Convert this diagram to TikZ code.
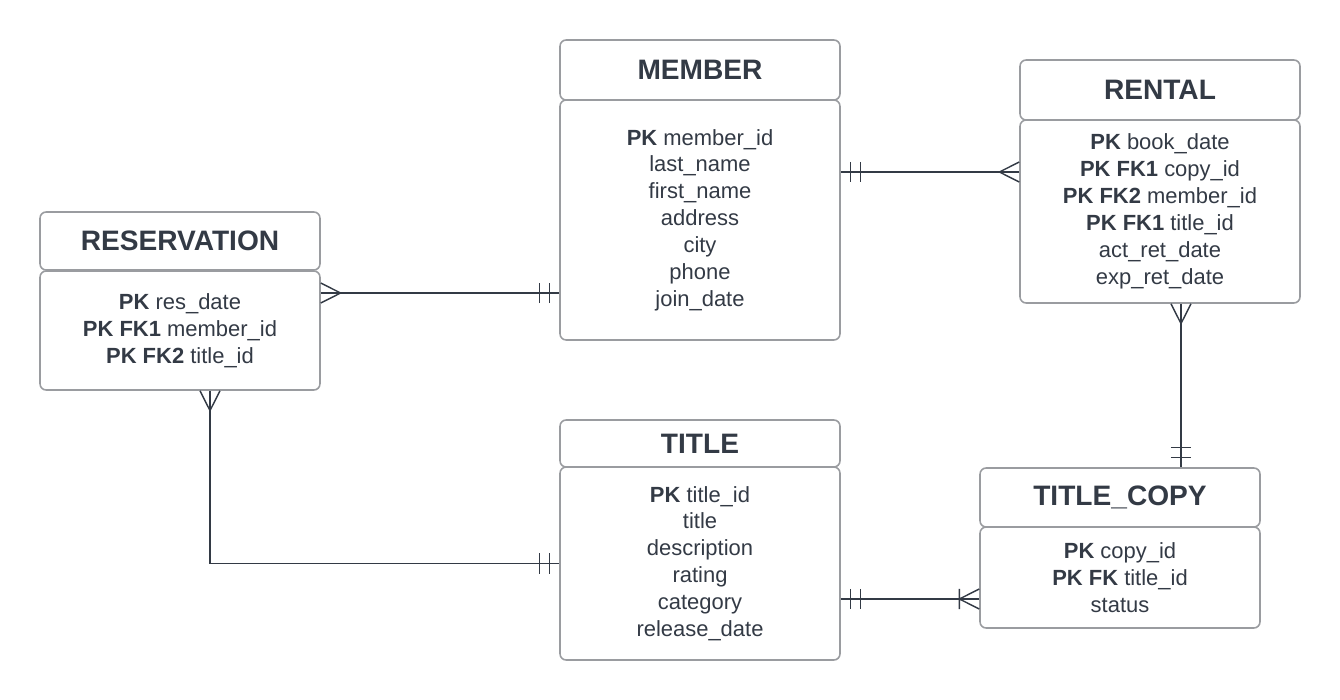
\documentclass[tikz,border=0pt]{standalone}
\usepackage{fontspec}
\setmainfont{Liberation Sans}
\usepackage{xcolor}
\usepackage{tikz}
\usetikzlibrary{decorations.markings}
\definecolor{inkgray}{HTML}{333A45}
\definecolor{boxgray}{HTML}{9A9CA0}
\tikzset{
  tblhead/.style={
    draw=boxgray, line width=0.9pt, rounded corners=3.5pt,
    minimum width=5.6cm, text=inkgray,
    font=\fontsize{16}{19}\selectfont\bfseries,
  },
  tblbody/.style={
    draw=boxgray, line width=0.9pt, rounded corners=3.5pt,
    minimum width=5.6cm, text=inkgray, align=center,
    font=\fontsize{12.5}{15.3}\selectfont,
  },
  link/.style={draw=inkgray, line width=0.8pt},
  many to one/.style={
    decoration={
      markings,
      mark=at position 0 with {\draw[inkgray, line width=0.8pt] (0,5.7pt) -- (11.3pt,0) -- (0,-5.7pt);},
      mark=at position 1 with {\draw[inkgray, line width=0.8pt] (-5.7pt,-5.7pt) -- (-5.7pt,5.7pt) (-11.3pt,-5.7pt) -- (-11.3pt,5.7pt);},
    },
    postaction={decorate},
  },
  some to one/.style={
    decoration={
      markings,
      mark=at position 0 with {\draw[inkgray, line width=0.8pt] (0,5.7pt) -- (11.3pt,0) -- (0,-5.7pt) (11.3pt,-5.7pt) -- (11.3pt,5.7pt);},
      mark=at position 1 with {\draw[inkgray, line width=0.8pt] (-5.7pt,-5.7pt) -- (-5.7pt,5.7pt) (-11.3pt,-5.7pt) -- (-11.3pt,5.7pt);},
    },
    postaction={decorate},
  },
}
\newcommand{\pk}[1]{\textbf{#1}}

\begin{document}
\begin{tikzpicture}[x=0.02cm, y=-0.02cm]
  \useasboundingbox (0,0) rectangle (1340,700);

  % Define nodes
  \node[tblhead, minimum height=1.2cm] (member) at (700,70) {MEMBER};
  \node[tblbody, minimum height=4.8cm] (memberbody) at (700,220)
    {\pk{PK} member\_id\\last\_name\\first\_name\\address\\city\\phone\\join\_date};

  \node[tblhead, minimum height=1.2cm] (rental) at (1160,90) {RENTAL};
  \node[tblbody, minimum height=3.66cm] (rentalbody) at (1160,211.5)
    {\pk{PK} book\_date\\\pk{PK FK1} copy\_id\\\pk{PK FK2} member\_id\\\pk{PK FK1} title\_id\\act\_ret\_date\\exp\_ret\_date};

  \node[tblhead, minimum height=1.16cm] (reservation) at (180,241) {RESERVATION};
  \node[tblbody, minimum height=2.38cm] (reservationbody) at (180,330.5)
    {\pk{PK} res\_date\\\pk{PK FK1} member\_id\\\pk{PK FK2} title\_id};

  \node[tblhead, minimum height=0.94cm] (title) at (700,443.5) {TITLE};
  \node[tblbody, minimum height=3.86cm] (titlebody) at (700,563.5)
    {\pk{PK} title\_id\\title\\description\\rating\\category\\release\_date};

  \node[tblhead, minimum height=1.18cm] (titlecopy) at (1120,497.5) {TITLE\_COPY};
  \node[tblbody, minimum height=2.02cm] (titlecopybody) at (1120,577.5)
    {\pk{PK} copy\_id\\\pk{PK FK} title\_id\\status};

  % Connect nodes
  \coordinate (a) at ([yshift=0.75cm]reservationbody.east);
  \draw[link, many to one] (a) -- (memberbody.west |- a);
  \coordinate (b) at ([yshift=0.96cm]memberbody.east);
  \draw[link, many to one] (rentalbody.west |- b) -- (b);
  \coordinate (c) at ([xshift=0.42cm]rentalbody.south);
  \draw[link, many to one] (c) -- (titlecopy.north -| c);
  \draw[link, many to one] ([xshift=0.6cm]reservationbody.south) |- (titlebody.west);
  \coordinate (d) at ([yshift=-0.71cm]titlebody.east);
  \draw[link, some to one] (titlecopybody.west |- d) -- (d);

\end{tikzpicture}
\end{document}
